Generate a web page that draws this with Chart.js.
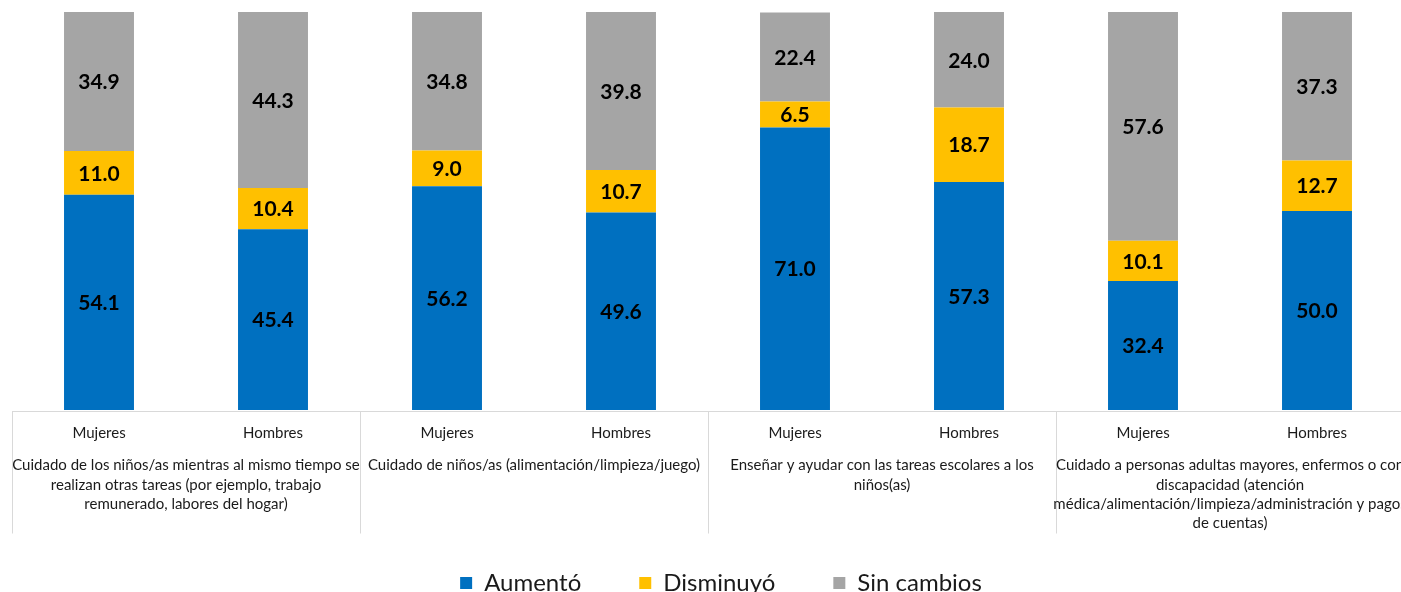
<!DOCTYPE html>
<html><head><meta charset="utf-8">
<script src="https://cdn.jsdelivr.net/npm/chart.js@4"></script>
<style>
html,body{margin:0;padding:0;background:#fff;overflow:hidden;width:1401px;height:592px;}
#outer{position:relative;width:1401px;height:592px;overflow:hidden;}
#wrap{position:absolute;left:0;top:0;width:1420px;height:605px;}
</style></head><body>
<div id="outer"><div id="wrap"><canvas id="c"></canvas></div></div>
<script>
const sexLabels = ['Mujeres','Hombres','Mujeres','Hombres','Mujeres','Hombres','Mujeres','Hombres'];
const groupLabels = [
  ['Cuidado de los niños/as mientras al mismo tiempo se','realizan otras tareas (por ejemplo, trabajo','remunerado, labores del hogar)'],
  ['Cuidado de niños/as (alimentación/limpieza/juego)'],
  ['Enseñar y ayudar con las tareas escolares a los','niños(as)'],
  ['Cuidado a personas adultas mayores, enfermos o con','discapacidad (atención','médica/alimentación/limpieza/administración y pagos','de cuentas)']
];
const seriesNames = ['Aumentó','Disminuyó','Sin cambios'];
const aumento    = [54.1, 45.4, 56.2, 49.6, 71.0, 57.3, 32.4, 50.0];
const disminuyo  = [11.0, 10.4,  9.0, 10.7,  6.5, 18.7, 10.1, 12.7];
const sinCambios = [34.9, 44.3, 34.8, 39.8, 22.4, 24.0, 57.6, 37.3];

const COLORS = ['#0070C0','#FFC000','#A5A5A5'];
const FONT = 'Lato';

const axisPlugin = {
  id: 'axisPlugin',
  afterLayout(chart) {
    if (chart.legend) { chart.legend.left += 13; chart.legend.right += 13; }
  },
  afterDraw(chart) {
    const {ctx, chartArea: a, scales: {x}} = chart;
    const per = sexLabels.length / groupLabels.length;
    ctx.save();
    ctx.strokeStyle = '#D9D9D9';
    ctx.lineWidth = 1;
    const yAx = Math.round(a.bottom) + 1.5;
    ctx.beginPath();
    ctx.moveTo(a.left, yAx); ctx.lineTo(a.right, yAx);
    for (let g = 0; g <= groupLabels.length; g++) {
      const xx = Math.round(x.getPixelForValue(g * per - 0.5)) + 0.5;
      ctx.moveTo(xx, yAx); ctx.lineTo(xx, yAx + 122);
    }
    ctx.stroke();
    ctx.fillStyle = '#1a1a1a';
    ctx.font = '15px ' + FONT;
    ctx.textAlign = 'center';
    ctx.textBaseline = 'middle';
    sexLabels.forEach((l, i) => ctx.fillText(l, x.getPixelForValue(i), yAx + 22));
    groupLabels.forEach((lines, g) => {
      const cx = (x.getPixelForValue(g * per - 0.5) + x.getPixelForValue((g + 1) * per - 0.5)) / 2;
      lines.forEach((ln, k) => ctx.fillText(ln, cx, yAx + 54 + k * 19.3));
    });
    ctx.restore();
  }
};

const valuePlugin = {
  id: 'valuePlugin',
  afterDatasetsDraw(chart) {
    const ctx = chart.ctx;
    ctx.save();
    ctx.font = 'bold 21px ' + FONT;
    ctx.fillStyle = '#000';
    ctx.textAlign = 'center';
    ctx.textBaseline = 'middle';
    chart.data.datasets.forEach((ds, di) => {
      const meta = chart.getDatasetMeta(di);
      meta.data.forEach((el, i) => {
        const yc = (el.y + el.base) / 2;
        ctx.fillText(ds.data[i].toFixed(1), el.x, yc + 1);
      });
    });
    ctx.restore();
  }
};

const seriesData = [aumento, disminuyo, sinCambios];
new Chart(document.getElementById('c'), {
  type: 'bar',
  data: {
    labels: sexLabels,
    datasets: seriesNames.map((n, i) => ({
      label: n,
      data: seriesData[i],
      backgroundColor: COLORS[i],
      borderWidth: 0,
      barPercentage: 0.402,
      categoryPercentage: 1.0
    }))
  },
  options: {
    responsive: true,
    maintainAspectRatio: false,
    animation: false,
    layout: {padding: {left: 12, right: 16, top: 12, bottom: 0}},
    scales: {
      x: {
        stacked: true,
        grid: {display: false},
        border: {display: false},
        ticks: {display: false},
        afterFit(s) { s.height = 103; }
      },
      y: {stacked: true, display: false, min: 0, max: 100}
    },
    plugins: {
      tooltip: {enabled: false},
      legend: {
        position: 'bottom',
        labels: {
          boxWidth: 12, boxHeight: 12, padding: 58,
          color: '#1a1a1a',
          font: {family: FONT, size: 24}
        }
      }
    }
  },
  plugins: [axisPlugin, valuePlugin]
});
</script>
</body></html>
